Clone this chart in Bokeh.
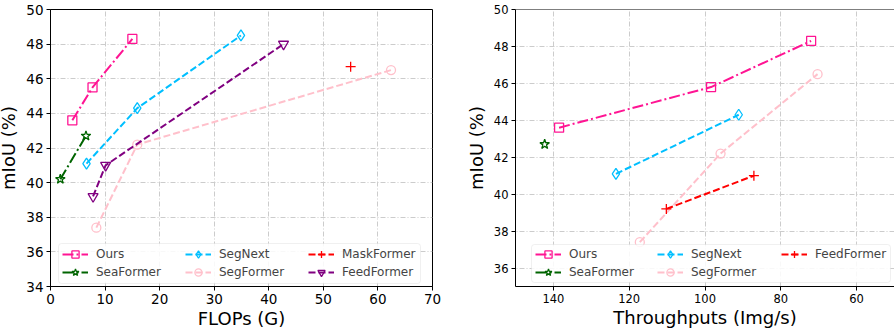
from bokeh.plotting import figure
from bokeh.layouts import row
from bokeh.models import FixedTicker, Legend, LegendItem, Span, BoxAnnotation
from bokeh.embed import file_html
from bokeh.resources import INLINE

# ---------------- data: left panel (FLOPs vs mIoU) ----------------
flops_ticks = [0, 10, 20, 30, 40, 50, 60, 70]
miou_ticks_left = [34, 36, 38, 40, 42, 44, 46, 48, 50]

ours_flops = [4.0, 7.7, 15.0]
ours_miou = [43.6, 45.5, 48.3]
sea_flops = [1.8, 6.5]
sea_miou = [40.2, 42.7]
segnext_flops = [6.6, 15.9, 34.9]
segnext_miou = [41.1, 44.3, 48.5]
segformer_flops = [8.4, 15.9, 62.4]
segformer_miou = [37.4, 42.2, 46.5]
mask_flops = [55.0]
mask_miou = [46.7]
feed_flops = [7.8, 10.1, 42.7]
feed_miou = [39.2, 41.0, 48.0]

# ---------------- data: right panel (Throughput vs mIoU) ----------------
tp_ticks = [140, 120, 100, 80, 60]
miou_ticks_right = [36, 38, 40, 42, 44, 46, 48, 50]

ours_tp = [138.5, 98.4, 72.0]
ours_tp_miou = [43.6, 45.8, 48.3]
sea_tp = [142.3]
sea_tp_miou = [42.7]
segnext_tp = [123.5, 91.1]
segnext_tp_miou = [41.1, 44.3]
segformer_tp = [117.2, 95.9, 70.3]
segformer_tp_miou = [37.4, 42.2, 46.5]
feed_tp = [110.2, 87.1]
feed_tp_miou = [39.2, 41.0]

FONT = "DejaVu Sans"
DASH = "7 3"
DASHDOT = "11 3 2 3"
GRID_DASH = "5 2 1 2"

C_OURS = "#ff1493"
C_SEA = "#006400"
C_SEGNEXT = "#00bfff"
C_SEGFORMER = "#ffc0cb"
C_MASK = "#ff0000"
C_FEED = "#800080"


def style(p, tick_size, label_size, xticks, yticks):
    for ax in (p.xaxis[0], p.yaxis[0]):
        ax.axis_line_color = "black"
        ax.axis_line_width = 1
        ax.major_tick_line_color = "black"
        ax.major_tick_out = 4
        ax.major_tick_in = 0
        ax.minor_tick_line_color = None
        ax.major_label_text_font = FONT
        ax.major_label_text_font_size = tick_size
        ax.major_label_text_color = "black"
        ax.axis_label_text_font = FONT
        ax.axis_label_text_font_size = label_size
        ax.axis_label_text_font_style = "normal"
        ax.axis_label_text_color = "black"
    p.xaxis[0].ticker = FixedTicker(ticks=xticks)
    p.yaxis[0].ticker = FixedTicker(ticks=yticks)
    p.xaxis[0].major_label_standoff = 3
    p.yaxis[0].major_label_standoff = 3
    p.xaxis[0].axis_label_standoff = 1
    p.yaxis[0].axis_label_standoff = 4
    for g in (p.xgrid[0], p.ygrid[0]):
        g.grid_line_color = "#cccccc"
        g.grid_line_width = 1
        g.grid_line_dash = GRID_DASH
    p.background_fill_color = "white"
    p.border_fill_color = "white"


def series(p, xs, ys, color, dash, marker, size, label):
    r1 = p.line(xs, ys, line_color=color, line_width=2, line_dash=dash)
    r2 = p.scatter(xs, ys, marker=marker, size=size, line_color=color,
                   line_width=1.3, fill_alpha=0)
    return LegendItem(label=label, renderers=[r1, r2])


def legend_column(items, x, y):
    lg = Legend(items=items, location=(x, y), orientation="vertical")
    lg.label_text_font = FONT
    lg.label_text_font_size = "12px"
    lg.glyph_width = 26
    lg.glyph_height = 18
    lg.label_standoff = 8
    lg.label_height = 18
    lg.spacing = 0
    lg.padding = 0
    lg.margin = 0
    lg.border_line_color = None
    lg.background_fill_alpha = 0
    return lg


def legend_box(left, right, bottom, top):
    return BoxAnnotation(left=left, right=right, bottom=bottom, top=top,
                         left_units="screen", right_units="screen",
                         bottom_units="screen", top_units="screen",
                         fill_color="white", fill_alpha=0.85,
                         line_color="#cccccc", line_width=1, border_radius=3,
                         level="annotation")


# ---------------- left figure ----------------
p1 = figure(frame_width=382, frame_height=277, x_range=(0, 70), y_range=(34, 50),
            output_backend="svg", toolbar_location=None,
            min_border_left=48, min_border_right=10, min_border_top=9, min_border_bottom=10)
p1.xaxis.axis_label = "FLOPs (G)"
p1.yaxis.axis_label = "mIoU (%)"
style(p1, "13.5px", "18px", flops_ticks, miou_ticks_left)
p1.outline_line_color = "black"
p1.outline_line_width = 1
p1.outline_line_alpha = 1

it_ours = series(p1, ours_flops, ours_miou, C_OURS, DASHDOT, "square", 9, "Ours")
it_sea = series(p1, sea_flops, sea_miou, C_SEA, DASHDOT, "star", 10, "SeaFormer")
it_segnext = series(p1, segnext_flops, segnext_miou, C_SEGNEXT, DASH, "diamond", 11, "SegNext")
it_segformer = series(p1, segformer_flops, segformer_miou, C_SEGFORMER, DASH, "circle", 9, "SegFormer")
it_mask = series(p1, mask_flops, mask_miou, C_MASK, DASH, "cross", 10, "MaskFormer")
it_feed = series(p1, feed_flops, feed_miou, C_FEED, DASH, "inverted_triangle", 10, "FeedFormer")
p1.add_layout(legend_box(8, 370, 3, 43))
p1.add_layout(legend_column([it_ours, it_sea], 12, 5))
p1.add_layout(legend_column([it_segnext, it_segformer], 135, 5))
p1.add_layout(legend_column([it_mask, it_feed], 258, 5))

# ---------------- right figure ----------------
p2 = figure(frame_width=379, frame_height=277, x_range=(150, 50), y_range=(35, 50),
            output_backend="svg", toolbar_location=None,
            min_border_left=73, min_border_right=0, min_border_top=9, min_border_bottom=10)
p2.xaxis.axis_label = "Throughputs (Img/s)"
p2.yaxis.axis_label = "mIoU (%)"
style(p2, "11.5px", "18px", tp_ticks, miou_ticks_right)
p2.outline_line_color = None
p2.add_layout(Span(location=50, dimension="width", line_color="black", line_width=1))

jt_ours = series(p2, ours_tp, ours_tp_miou, C_OURS, DASHDOT, "square", 9, "Ours")
jt_sea = series(p2, sea_tp, sea_tp_miou, C_SEA, DASHDOT, "star", 10, "SeaFormer")
jt_segnext = series(p2, segnext_tp, segnext_tp_miou, C_SEGNEXT, DASH, "diamond", 11, "SegNext")
jt_segformer = series(p2, segformer_tp, segformer_tp_miou, C_SEGFORMER, DASH, "circle", 9, "SegFormer")
jt_feed = series(p2, feed_tp, feed_tp_miou, C_MASK, DASH, "cross", 10, "FeedFormer")
p2.add_layout(legend_box(16, 375, 4, 42))
p2.add_layout(legend_column([jt_ours, jt_sea], 20, 5))
p2.add_layout(legend_column([jt_segnext, jt_segformer], 142, 5))
p2.add_layout(legend_column([jt_feed], 266, 23))

layout = row(p1, p2, spacing=0, margin=(0, -10, -30, -5))
open("out.html", "w").write(file_html(layout, INLINE))
